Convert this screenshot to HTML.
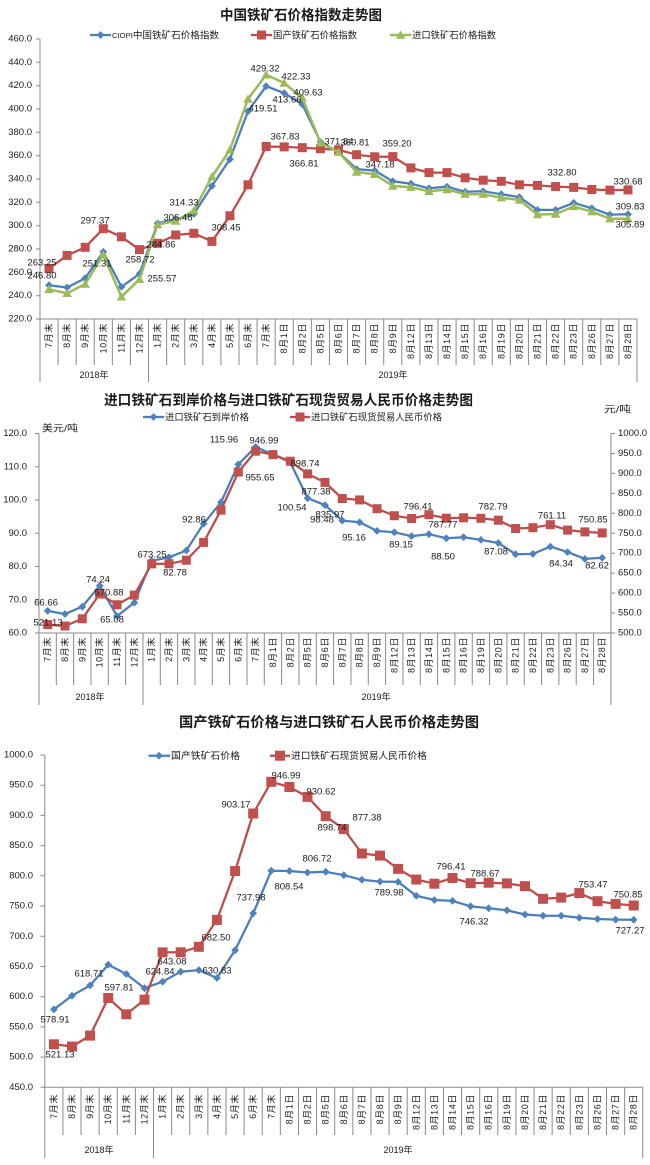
<!DOCTYPE html>
<html><head><meta charset="utf-8">
<style>
html,body{margin:0;padding:0;background:#fff;}
svg{display:block;font-family:"Liberation Sans","Noto Sans CJK SC",sans-serif;}
text{fill:#1a1a1a;}
.t{font-size:14px;font-weight:bold;text-anchor:start;dominant-baseline:central;}
.lg{font-size:9.4px;dominant-baseline:central;}
.yl{font-size:9.5px;text-anchor:end;dominant-baseline:central;}
.yr{font-size:9.5px;text-anchor:start;dominant-baseline:central;}
.dl{font-size:9.5px;text-anchor:middle;dominant-baseline:central;}
.cl text{font-size:9px;text-anchor:end;dominant-baseline:central;letter-spacing:0.6px;}
.yr2{font-size:9px;text-anchor:middle;dominant-baseline:central;}
.ax{stroke:#8a8a8a;stroke-width:1;fill:none;}
.sb{fill:none;stroke:#4A7EBB;stroke-width:2.25;stroke-linejoin:round;marker-start:url(#mb);marker-mid:url(#mb);marker-end:url(#mb);}
.sr{fill:none;stroke:#BE4B48;stroke-width:2.25;stroke-linejoin:round;marker-start:url(#mr);marker-mid:url(#mr);marker-end:url(#mr);}
.sg{fill:none;stroke:#9BBB59;stroke-width:2.5;stroke-linejoin:round;marker-start:url(#mg);marker-mid:url(#mg);marker-end:url(#mg);}
.sr2{fill:none;stroke:#BE4B48;stroke-width:2.25;stroke-linejoin:round;marker-start:url(#mr2);marker-mid:url(#mr2);marker-end:url(#mr2);}
.lb{fill:none;stroke:#4A7EBB;stroke-width:2.25;marker-mid:url(#mb);}
.lr{fill:none;stroke:#BE4B48;stroke-width:2.25;marker-mid:url(#mr);}
.lr2{fill:none;stroke:#BE4B48;stroke-width:2.25;marker-mid:url(#mr2);}
.lgn{fill:none;stroke:#9BBB59;stroke-width:2.5;marker-mid:url(#mg);}
</style></head>
<body>
<svg width="650" height="1165" viewBox="0 0 650 1165" xmlns="http://www.w3.org/2000/svg">
<defs>
<marker id="mb" viewBox="-5 -5 10 10" markerWidth="10" markerHeight="10" markerUnits="userSpaceOnUse" refX="0" refY="0" overflow="visible"><path d="M0-3.9L3.9 0 0 3.9-3.9 0z" fill="#4F81BD"/></marker>
<marker id="mr" viewBox="-5 -5 10 10" markerWidth="10" markerHeight="10" markerUnits="userSpaceOnUse" refX="0" refY="0" overflow="visible"><rect x="-4.5" y="-4.5" width="9" height="9" fill="#C0504D"/></marker>
<marker id="mr2" viewBox="-6 -6 12 12" markerWidth="12" markerHeight="12" markerUnits="userSpaceOnUse" refX="0" refY="0" overflow="visible"><rect x="-5" y="-5" width="10" height="10" fill="#C0504D"/></marker>
<marker id="mg" viewBox="-5 -5 10 10" markerWidth="10" markerHeight="10" markerUnits="userSpaceOnUse" refX="0" refY="0" overflow="visible"><path d="M0-4.6L4.7 3.7H-4.7z" fill="#9BBB59"/></marker>
</defs>

<!-- ================= CHART 1 ================= -->
<text class="t" x="220" y="15" textLength="162" lengthAdjust="spacingAndGlyphs">中国铁矿石价格指数走势图</text>

<path d="M90 35H100.5H111" class="lb"/>
<text class="lg" x="112" y="35" textLength="107" lengthAdjust="spacingAndGlyphs"><tspan font-size="7.5">CIOPI</tspan>中国铁矿石价格指数</text>
<path d="M251 35H261.5H272" class="lr"/>
<text class="lg" x="273" y="35" textLength="84" lengthAdjust="spacingAndGlyphs">国产铁矿石价格指数</text>
<path d="M390 35H400.5H411" class="lgn"/>
<text class="lg" x="412" y="35" textLength="84" lengthAdjust="spacingAndGlyphs">进口铁矿石价格指数</text>

<g class="yl">
<text class="yl" x="32" y="39">460.0</text>
<text class="yl" x="32" y="62.3">440.0</text>
<text class="yl" x="32" y="85.7">420.0</text>
<text class="yl" x="32" y="109">400.0</text>
<text class="yl" x="32" y="132.3">380.0</text>
<text class="yl" x="32" y="155.7">360.0</text>
<text class="yl" x="32" y="179">340.0</text>
<text class="yl" x="32" y="202.3">320.0</text>
<text class="yl" x="32" y="225.7">300.0</text>
<text class="yl" x="32" y="249">280.0</text>
<text class="yl" x="32" y="272.3">260.0</text>
<text class="yl" x="32" y="295.7">240.0</text>
<text class="yl" x="32" y="319">220.0</text>
</g>
<path class="ax" d="M40 39V382M40 319H637M36 39H40M36 62.3H40M36 85.7H40M36 109H40M36 132.3H40M36 155.7H40M36 179H40M36 202.3H40M36 225.7H40M36 249H40M36 272.3H40M36 295.7H40M36 319H40
M58.09 319V365M76.18 319V365M94.27 319V365M112.36 319V365M130.45 319V365M148.54 319V382M166.63 319V365M184.72 319V365M202.81 319V365M220.9 319V365M238.99 319V365M257.08 319V365M275.17 319V365M293.26 319V365M311.35 319V365M329.44 319V365M347.53 319V365M365.62 319V365M383.71 319V365M401.8 319V365M419.89 319V365M437.98 319V365M456.07 319V365M474.16 319V365M492.25 319V365M510.34 319V365M528.43 319V365M546.52 319V365M564.61 319V365M582.7 319V365M600.79 319V365M618.88 319V365M636.97 319V382"/>

<polyline class="sb" points="49.0,285.2 67.1,287.5 85.2,278.2 103.3,251.9 121.4,286.9 139.5,273.8 157.6,223.3 175.7,219.3 193.8,214.0 211.9,186.0 229.9,159.2 248.0,111.3 266.1,86.2 284.2,93.1 302.3,104.3 320.4,141.9 338.5,152.2 356.6,169.1 374.7,170.6 392.8,181.3 410.9,183.7 429.0,188.3 447.0,186.6 465.1,191.8 483.2,191.3 501.3,194.2 519.4,197.1 537.5,209.9 555.6,209.9 573.7,202.9 591.8,208.2 609.9,214.6 628.0,214.2"/>
<polyline class="sr" points="49.0,268.5 67.1,255.4 85.2,247.3 103.3,228.7 121.4,236.8 139.5,249.6 157.6,243.3 175.7,235.0 193.8,233.3 211.9,241.4 229.9,215.8 248.0,184.8 266.1,146.5 284.2,146.9 302.3,147.7 320.4,148.7 338.5,149.8 356.6,154.7 374.7,156.8 392.8,156.6 410.9,167.9 429.0,172.6 447.0,172.6 465.1,177.8 483.2,180.2 501.3,181.3 519.4,184.8 537.5,185.4 555.6,186.6 573.7,187.4 591.8,189.5 609.9,190.1 628.0,189.9"/>
<polyline class="sg" points="49.0,289.3 67.1,293.3 85.2,284.0 103.3,254.8 121.4,296.8 139.5,279.3 157.6,224.5 175.7,221.0 193.8,210.7 211.9,176.7 229.9,149.8 248.0,99.0 266.1,74.8 284.2,83.0 302.3,97.8 320.4,142.8 338.5,152.2 356.6,172.0 374.7,174.3 392.8,186.0 410.9,187.2 429.0,191.3 447.0,189.5 465.1,194.2 483.2,194.2 501.3,197.7 519.4,200.0 537.5,214.6 555.6,214.0 573.7,206.4 591.8,211.7 609.9,218.7 628.0,218.8"/>

<text class="dl" x="265" y="69">429.32</text>
<text class="dl" x="296" y="77">422.33</text>
<text class="dl" x="263" y="109">419.51</text>
<text class="dl" x="287" y="100">413.66</text>
<text class="dl" x="308" y="93">409.63</text>
<text class="dl" x="285" y="137">367.83</text>
<text class="dl" x="304" y="164">366.81</text>
<text class="dl" x="339" y="142">371.84</text>
<text class="dl" x="355" y="143">360.81</text>
<text class="dl" x="397" y="144">359.20</text>
<text class="dl" x="380" y="165">347.18</text>
<text class="dl" x="562" y="173">332.80</text>
<text class="dl" x="628" y="182">330.68</text>
<text class="dl" x="184" y="203">314.33</text>
<text class="dl" x="178" y="218">306.48</text>
<text class="dl" x="95" y="221">297.37</text>
<text class="dl" x="226" y="228">308.45</text>
<text class="dl" x="161" y="245">284.86</text>
<text class="dl" x="42" y="263">263.25</text>
<text class="dl" x="42" y="276">246.80</text>
<text class="dl" x="97" y="264">251.31</text>
<text class="dl" x="140" y="260">258.72</text>
<text class="dl" x="162" y="279">255.57</text>
<text class="dl" x="630" y="207">309.83</text>
<text class="dl" x="630" y="225">305.89</text>

<g class="cl">
<text transform="translate(49.0,323)rotate(-90)">7月末</text>
<text transform="translate(67.1,323)rotate(-90)">8月末</text>
<text transform="translate(85.2,323)rotate(-90)">9月末</text>
<text transform="translate(103.3,323)rotate(-90)">10月末</text>
<text transform="translate(121.4,323)rotate(-90)">11月末</text>
<text transform="translate(139.5,323)rotate(-90)">12月末</text>
<text transform="translate(157.6,323)rotate(-90)">1月末</text>
<text transform="translate(175.7,323)rotate(-90)">2月末</text>
<text transform="translate(193.8,323)rotate(-90)">3月末</text>
<text transform="translate(211.9,323)rotate(-90)">4月末</text>
<text transform="translate(229.9,323)rotate(-90)">5月末</text>
<text transform="translate(248.0,323)rotate(-90)">6月末</text>
<text transform="translate(266.1,323)rotate(-90)">7月末</text>
<text transform="translate(284.2,323)rotate(-90)">8月1日</text>
<text transform="translate(302.3,323)rotate(-90)">8月2日</text>
<text transform="translate(320.4,323)rotate(-90)">8月5日</text>
<text transform="translate(338.5,323)rotate(-90)">8月6日</text>
<text transform="translate(356.6,323)rotate(-90)">8月7日</text>
<text transform="translate(374.7,323)rotate(-90)">8月8日</text>
<text transform="translate(392.8,323)rotate(-90)">8月9日</text>
<text transform="translate(410.9,323)rotate(-90)">8月12日</text>
<text transform="translate(429.0,323)rotate(-90)">8月13日</text>
<text transform="translate(447.0,323)rotate(-90)">8月14日</text>
<text transform="translate(465.1,323)rotate(-90)">8月15日</text>
<text transform="translate(483.2,323)rotate(-90)">8月16日</text>
<text transform="translate(501.3,323)rotate(-90)">8月19日</text>
<text transform="translate(519.4,323)rotate(-90)">8月20日</text>
<text transform="translate(537.5,323)rotate(-90)">8月21日</text>
<text transform="translate(555.6,323)rotate(-90)">8月22日</text>
<text transform="translate(573.7,323)rotate(-90)">8月23日</text>
<text transform="translate(591.8,323)rotate(-90)">8月26日</text>
<text transform="translate(609.9,323)rotate(-90)">8月27日</text>
<text transform="translate(628.0,323)rotate(-90)">8月28日</text>
</g>
<text class="yr2" x="94" y="375">2018年</text>
<text class="yr2" x="393" y="375">2019年</text>

<!-- ================= CHART 2 ================= -->
<text class="t" x="104" y="400" textLength="369" lengthAdjust="spacingAndGlyphs">进口铁矿石到岸价格与进口铁矿石现货贸易人民币价格走势图</text>
<path d="M143 417H153.5H164" class="lb"/>
<text class="lg" x="165" y="417" textLength="84" lengthAdjust="spacingAndGlyphs">进口铁矿石到岸价格</text>
<path d="M290 417H300H310" class="lr"/>
<text class="lg" x="311" y="417" textLength="131" lengthAdjust="spacingAndGlyphs">进口铁矿石现货贸易人民币价格</text>
<text class="lg" x="42" y="428" textLength="36" lengthAdjust="spacingAndGlyphs">美元/吨</text>
<text class="lg" x="604" y="409" textLength="27" lengthAdjust="spacingAndGlyphs">元/吨</text>

<text class="yl" x="27" y="433.5">120.0</text>
<text class="yl" x="27" y="466.75">110.0</text>
<text class="yl" x="27" y="500">100.0</text>
<text class="yl" x="27" y="533.25">90.0</text>
<text class="yl" x="27" y="566.5">80.0</text>
<text class="yl" x="27" y="599.75">70.0</text>
<text class="yl" x="27" y="633">60.0</text>

<text class="yr" x="618" y="433.5">1000.0</text>
<text class="yr" x="618" y="453.45">950.0</text>
<text class="yr" x="618" y="473.4">900.0</text>
<text class="yr" x="618" y="493.35">850.0</text>
<text class="yr" x="618" y="513.3">800.0</text>
<text class="yr" x="618" y="533.25">750.0</text>
<text class="yr" x="618" y="553.2">700.0</text>
<text class="yr" x="618" y="573.15">650.0</text>
<text class="yr" x="618" y="593.1">600.0</text>
<text class="yr" x="618" y="613.05">550.0</text>
<text class="yr" x="618" y="633">500.0</text>

<path class="ax" d="M39 433.5V705M39 633H610.9M610.9 433.5V705
M35 433.5H39M35 466.75H39M35 500H39M35 533.25H39M35 566.5H39M35 599.75H39M35 633H39
M610.9 433.5H615M610.9 453.45H615M610.9 473.4H615M610.9 493.35H615M610.9 513.3H615M610.9 533.25H615M610.9 553.2H615M610.9 573.15H615M610.9 593.1H615M610.9 613.05H615M610.9 633H615
M56.33 633V685M73.66 633V685M90.99 633V685M108.32 633V685M125.65 633V685M142.98 633V705M160.31 633V685M177.64 633V685M194.97 633V685M212.3 633V685M229.63 633V685M246.96 633V685M264.29 633V685M281.62 633V685M298.95 633V685M316.28 633V685M333.61 633V685M350.94 633V685M368.27 633V685M385.6 633V685M402.93 633V685M420.26 633V685M437.59 633V685M454.92 633V685M472.25 633V685M489.58 633V685M506.91 633V685M524.24 633V685M541.57 633V685M558.9 633V685M576.23 633V685M593.56 633V685"/>

<polyline class="sb" points="47.7,610.9 65.0,614.0 82.3,606.7 99.7,585.7 117.0,616.1 134.3,602.7 151.7,560.8 169.0,557.3 186.3,550.5 203.6,523.7 221.0,502.3 238.3,464.4 255.6,446.9 273.0,454.5 290.3,462.4 307.6,498.2 325.0,505.1 342.3,520.6 359.6,522.3 377.0,530.9 394.3,532.3 411.6,536.1 428.9,534.2 446.3,538.2 463.6,537.2 480.9,539.9 498.3,543.0 515.6,554.2 532.9,553.9 550.3,546.6 567.6,552.1 584.9,558.9 602.2,557.8"/>
<polyline class="sr" points="47.7,624.6 65.0,626.0 82.3,618.8 99.7,594.0 117.0,604.7 134.3,595.1 151.7,563.9 169.0,563.8 186.3,560.2 203.6,542.4 221.0,510.1 238.3,472.1 255.6,451.2 273.0,454.6 290.3,461.2 307.6,473.9 325.0,482.4 342.3,498.5 359.6,499.9 377.0,508.7 394.3,515.7 411.6,518.5 428.9,514.7 446.3,518.2 463.6,517.8 480.9,518.3 498.3,520.2 515.6,528.5 532.9,527.7 550.3,524.7 567.6,530.1 584.9,531.9 602.2,532.9"/>

<text class="dl" x="224" y="440">115.96</text>
<text class="dl" x="264" y="441">946.99</text>
<text class="dl" x="260" y="478">955.65</text>
<text class="dl" x="305" y="464">898.74</text>
<text class="dl" x="316" y="492">877.38</text>
<text class="dl" x="292" y="508">100.54</text>
<text class="dl" x="330" y="515">835.97</text>
<text class="dl" x="322" y="520">98.48</text>
<text class="dl" x="194" y="520">92.86</text>
<text class="dl" x="354" y="538">95.16</text>
<text class="dl" x="418" y="507">796.41</text>
<text class="dl" x="493" y="507">782.79</text>
<text class="dl" x="552" y="516">761.11</text>
<text class="dl" x="593" y="520">750.85</text>
<text class="dl" x="443" y="525">787.77</text>
<text class="dl" x="401" y="545">89.15</text>
<text class="dl" x="443" y="557">88.50</text>
<text class="dl" x="496" y="552">87.08</text>
<text class="dl" x="561" y="564">84.34</text>
<text class="dl" x="597" y="566">82.62</text>
<text class="dl" x="152" y="555">673.25</text>
<text class="dl" x="175" y="573">82.78</text>
<text class="dl" x="98" y="580">74.24</text>
<text class="dl" x="109" y="593">570.88</text>
<text class="dl" x="46" y="603">66.66</text>
<text class="dl" x="112" y="620">65.08</text>
<text class="dl" x="48" y="623">521.13</text>

<g class="cl">
<text transform="translate(47.7,637)rotate(-90)">7月末</text>
<text transform="translate(65.0,637)rotate(-90)">8月末</text>
<text transform="translate(82.3,637)rotate(-90)">9月末</text>
<text transform="translate(99.7,637)rotate(-90)">10月末</text>
<text transform="translate(117.0,637)rotate(-90)">11月末</text>
<text transform="translate(134.3,637)rotate(-90)">12月末</text>
<text transform="translate(151.7,637)rotate(-90)">1月末</text>
<text transform="translate(169.0,637)rotate(-90)">2月末</text>
<text transform="translate(186.3,637)rotate(-90)">3月末</text>
<text transform="translate(203.6,637)rotate(-90)">4月末</text>
<text transform="translate(221.0,637)rotate(-90)">5月末</text>
<text transform="translate(238.3,637)rotate(-90)">6月末</text>
<text transform="translate(255.6,637)rotate(-90)">7月末</text>
<text transform="translate(273.0,637)rotate(-90)">8月1日</text>
<text transform="translate(290.3,637)rotate(-90)">8月2日</text>
<text transform="translate(307.6,637)rotate(-90)">8月5日</text>
<text transform="translate(325.0,637)rotate(-90)">8月6日</text>
<text transform="translate(342.3,637)rotate(-90)">8月7日</text>
<text transform="translate(359.6,637)rotate(-90)">8月8日</text>
<text transform="translate(377.0,637)rotate(-90)">8月9日</text>
<text transform="translate(394.3,637)rotate(-90)">8月12日</text>
<text transform="translate(411.6,637)rotate(-90)">8月13日</text>
<text transform="translate(428.9,637)rotate(-90)">8月14日</text>
<text transform="translate(446.3,637)rotate(-90)">8月15日</text>
<text transform="translate(463.6,637)rotate(-90)">8月16日</text>
<text transform="translate(480.9,637)rotate(-90)">8月19日</text>
<text transform="translate(498.3,637)rotate(-90)">8月20日</text>
<text transform="translate(515.6,637)rotate(-90)">8月21日</text>
<text transform="translate(532.9,637)rotate(-90)">8月22日</text>
<text transform="translate(550.3,637)rotate(-90)">8月23日</text>
<text transform="translate(567.6,637)rotate(-90)">8月26日</text>
<text transform="translate(584.9,637)rotate(-90)">8月27日</text>
<text transform="translate(602.2,637)rotate(-90)">8月28日</text>
</g>
<text class="yr2" x="90" y="697">2018年</text>
<text class="yr2" x="376" y="697">2019年</text>

<!-- ================= CHART 3 ================= -->
<text class="t" x="179" y="722" textLength="300" lengthAdjust="spacingAndGlyphs">国产铁矿石价格与进口铁矿石人民币价格走势图</text>
<path d="M148.5 755.7H159H170" class="lb"/>
<text class="lg" x="171" y="755.7" textLength="69" lengthAdjust="spacingAndGlyphs">国产铁矿石价格</text>
<path d="M270 755.7H280H290" class="lr2"/>
<text class="lg" x="291" y="755.7" textLength="136" lengthAdjust="spacingAndGlyphs">进口铁矿石现货贸易人民币价格</text>

<text class="yl" x="33" y="755">1000.0</text>
<text class="yl" x="33" y="785.2">950.0</text>
<text class="yl" x="33" y="815.4">900.0</text>
<text class="yl" x="33" y="845.6">850.0</text>
<text class="yl" x="33" y="875.8">800.0</text>
<text class="yl" x="33" y="906">750.0</text>
<text class="yl" x="33" y="936.3">700.0</text>
<text class="yl" x="33" y="966.5">650.0</text>
<text class="yl" x="33" y="996.7">600.0</text>
<text class="yl" x="33" y="1026.9">550.0</text>
<text class="yl" x="33" y="1057.1">500.0</text>
<text class="yl" x="33" y="1087.3">450.0</text>

<path class="ax" d="M44.8 755V1158M44.8 1087.3H642.8
M40.5 755H44.8M40.5 785.2H44.8M40.5 815.4H44.8M40.5 845.6H44.8M40.5 875.8H44.8M40.5 906H44.8M40.5 936.3H44.8M40.5 966.5H44.8M40.5 996.7H44.8M40.5 1026.9H44.8M40.5 1057.1H44.8M40.5 1087.3H44.8
M62.92 1087.3V1135M81.04 1087.3V1135M99.16 1087.3V1135M117.28 1087.3V1135M135.4 1087.3V1135M153.52 1087.3V1158M171.64 1087.3V1135M189.76 1087.3V1135M207.88 1087.3V1135M226 1087.3V1135M244.12 1087.3V1135M262.24 1087.3V1135M280.36 1087.3V1135M298.48 1087.3V1135M316.6 1087.3V1135M334.72 1087.3V1135M352.84 1087.3V1135M370.96 1087.3V1135M389.08 1087.3V1135M407.2 1087.3V1135M425.32 1087.3V1135M443.44 1087.3V1135M461.56 1087.3V1135M479.68 1087.3V1135M497.8 1087.3V1135M515.92 1087.3V1135M534.04 1087.3V1135M552.16 1087.3V1135M570.28 1087.3V1135M588.4 1087.3V1135M606.52 1087.3V1135M624.64 1087.3V1135M642.76 1087.3V1158"/>

<polyline class="sb" points="53.9,1009.4 72.0,995.7 90.1,985.4 108.2,964.7 126.3,974.0 144.5,988.2 162.6,981.7 180.7,971.7 198.8,970.1 216.9,978.0 235.1,950.2 253.2,913.3 271.3,870.7 289.4,871.0 307.5,872.5 325.7,871.8 343.8,875.2 361.9,879.8 380.0,881.6 398.1,881.9 416.3,895.8 434.4,900.0 452.5,900.9 470.6,906.3 488.7,908.3 506.9,910.3 525.0,914.5 543.1,915.7 561.2,915.7 579.3,917.8 597.5,919.0 615.6,919.6 633.7,919.8"/>
<polyline class="sr2" points="53.9,1044.3 72.0,1046.5 90.1,1035.6 108.2,998.0 126.3,1014.3 144.5,999.7 162.6,952.4 180.7,952.3 198.8,946.8 216.9,919.9 235.1,871.0 253.2,813.5 271.3,781.8 289.4,787.0 307.5,796.9 325.7,816.2 343.8,829.1 361.9,853.5 380.0,855.6 398.1,868.9 416.3,879.5 434.4,883.7 452.5,878.0 470.6,883.2 488.7,882.7 506.9,883.4 525.0,886.2 543.1,898.8 561.2,897.6 579.3,893.1 597.5,901.2 615.6,903.9 633.7,905.5"/>

<text class="dl" x="286" y="776">946.99</text>
<text class="dl" x="321" y="792">930.62</text>
<text class="dl" x="236" y="805">903.17</text>
<text class="dl" x="332" y="828">898.74</text>
<text class="dl" x="367" y="818">877.38</text>
<text class="dl" x="317" y="859">806.72</text>
<text class="dl" x="289" y="887">808.54</text>
<text class="dl" x="389" y="893">789.98</text>
<text class="dl" x="451" y="867">796.41</text>
<text class="dl" x="485" y="874">788.67</text>
<text class="dl" x="593" y="885">753.47</text>
<text class="dl" x="628" y="895">750.85</text>
<text class="dl" x="251" y="898">737.98</text>
<text class="dl" x="474" y="922">746.32</text>
<text class="dl" x="630" y="931">727.27</text>
<text class="dl" x="216" y="938">682.50</text>
<text class="dl" x="172" y="962">643.08</text>
<text class="dl" x="160" y="972">624.84</text>
<text class="dl" x="217" y="971">630.83</text>
<text class="dl" x="89" y="974">618.71</text>
<text class="dl" x="119" y="988">597.81</text>
<text class="dl" x="55" y="1020">578.91</text>
<text class="dl" x="60" y="1055">521.13</text>

<g class="cl">
<text transform="translate(53.9,1094)rotate(-90)">7月末</text>
<text transform="translate(72.0,1094)rotate(-90)">8月末</text>
<text transform="translate(90.1,1094)rotate(-90)">9月末</text>
<text transform="translate(108.2,1094)rotate(-90)">10月末</text>
<text transform="translate(126.3,1094)rotate(-90)">11月末</text>
<text transform="translate(144.5,1094)rotate(-90)">12月末</text>
<text transform="translate(162.6,1094)rotate(-90)">1月末</text>
<text transform="translate(180.7,1094)rotate(-90)">2月末</text>
<text transform="translate(198.8,1094)rotate(-90)">3月末</text>
<text transform="translate(216.9,1094)rotate(-90)">4月末</text>
<text transform="translate(235.1,1094)rotate(-90)">5月末</text>
<text transform="translate(253.2,1094)rotate(-90)">6月末</text>
<text transform="translate(271.3,1094)rotate(-90)">7月末</text>
<text transform="translate(289.4,1094)rotate(-90)">8月1日</text>
<text transform="translate(307.5,1094)rotate(-90)">8月2日</text>
<text transform="translate(325.7,1094)rotate(-90)">8月5日</text>
<text transform="translate(343.8,1094)rotate(-90)">8月6日</text>
<text transform="translate(361.9,1094)rotate(-90)">8月7日</text>
<text transform="translate(380.0,1094)rotate(-90)">8月8日</text>
<text transform="translate(398.1,1094)rotate(-90)">8月9日</text>
<text transform="translate(416.3,1094)rotate(-90)">8月12日</text>
<text transform="translate(434.4,1094)rotate(-90)">8月13日</text>
<text transform="translate(452.5,1094)rotate(-90)">8月14日</text>
<text transform="translate(470.6,1094)rotate(-90)">8月15日</text>
<text transform="translate(488.7,1094)rotate(-90)">8月16日</text>
<text transform="translate(506.9,1094)rotate(-90)">8月19日</text>
<text transform="translate(525.0,1094)rotate(-90)">8月20日</text>
<text transform="translate(543.1,1094)rotate(-90)">8月21日</text>
<text transform="translate(561.2,1094)rotate(-90)">8月22日</text>
<text transform="translate(579.3,1094)rotate(-90)">8月23日</text>
<text transform="translate(597.5,1094)rotate(-90)">8月26日</text>
<text transform="translate(615.6,1094)rotate(-90)">8月27日</text>
<text transform="translate(633.7,1094)rotate(-90)">8月28日</text>
</g>
<text class="yr2" x="99" y="1150">2018年</text>
<text class="yr2" x="398" y="1150">2019年</text>
</svg>
</body></html>
